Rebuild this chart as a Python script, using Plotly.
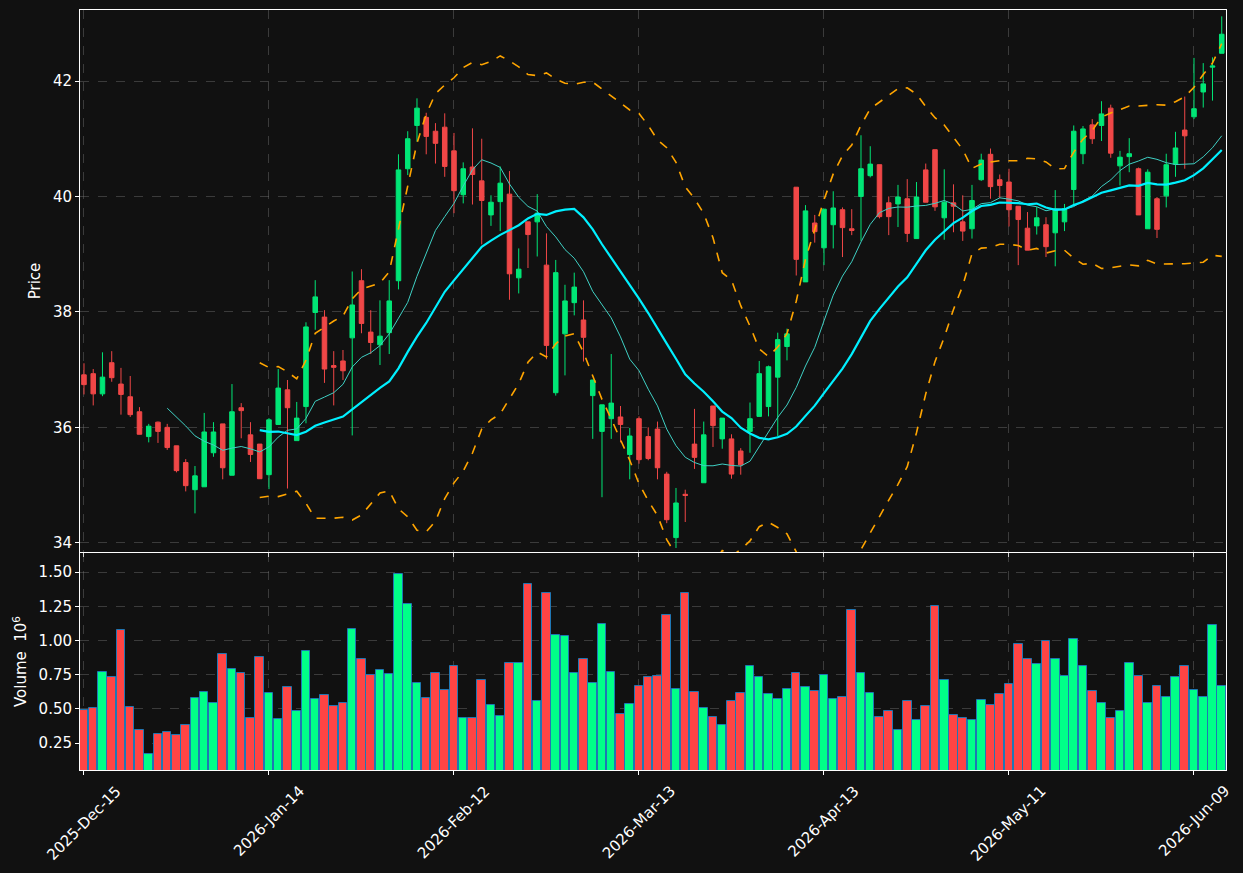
import numpy as np
import pandas as pd
import plotly.graph_objects as go
from plotly.subplots import make_subplots

# ---- data ----
opens = [36.91, 36.93, 36.58, 37.12, 36.75, 36.53, 36.27, 35.84, 36.09, 36.00,
         35.68, 35.39, 34.92, 34.97, 35.56, 36.06, 35.17, 36.34, 35.87, 35.71,
         35.18, 36.05, 36.65, 35.77, 36.36, 37.99, 37.91, 37.07, 37.15, 37.55,
         38.54, 37.65, 37.43, 37.64, 38.54, 40.48, 41.23, 41.37, 41.13, 41.20,
         40.79, 40.03, 40.51, 40.27, 39.68, 39.91, 40.04, 38.59, 39.56, 39.56,
         38.81, 36.60, 37.62, 38.16, 37.86, 36.55, 35.93, 36.15, 36.18, 35.53,
         36.15, 35.84, 35.97, 35.19, 34.09, 34.84, 35.71, 35.04, 36.37, 35.80,
         35.80, 35.59, 35.93, 36.19, 36.36, 36.87, 37.40, 40.16, 38.52, 39.54,
         39.11, 39.51, 39.77, 39.44, 40.00, 40.36, 40.55, 39.89, 39.87, 39.96,
         39.27, 40.46, 40.81, 39.63, 39.89, 39.56, 39.44, 40.29, 40.73, 40.29,
         40.25, 39.83, 39.45, 39.49, 39.51, 39.37, 39.56, 40.12, 40.74, 41.24,
         41.23, 41.53, 40.53, 40.69, 40.48, 39.44, 39.96, 40.01, 40.56, 41.15,
         41.38, 41.81, 42.24, 42.48]
highs = [37.11, 37.01, 37.30, 37.32, 37.03, 36.89, 36.35, 36.06, 36.10, 36.06,
         35.68, 35.45, 35.33, 36.25, 36.09, 36.06, 36.75, 36.42, 36.09, 35.71,
         36.16, 37.01, 36.82, 36.44, 37.82, 38.55, 38.03, 37.32, 37.34, 38.70,
         38.74, 38.03, 38.20, 38.55, 40.73, 41.13, 41.70, 41.45, 41.27, 41.44,
         41.10, 40.59, 41.18, 41.00, 40.02, 40.52, 40.44, 39.10, 39.56, 40.04,
         39.36, 38.90, 38.47, 38.68, 38.20, 36.82, 36.39, 37.27, 36.37, 35.99,
         36.19, 36.00, 36.10, 35.23, 34.95, 34.92, 36.32, 36.10, 36.37, 36.16,
         35.88, 35.64, 36.43, 37.15, 37.07, 37.64, 37.71, 40.16, 39.85, 39.68,
         39.78, 40.09, 39.81, 39.78, 41.06, 40.87, 40.55, 40.00, 40.20, 40.30,
         40.25, 40.57, 40.81, 40.47, 40.21, 40.02, 40.20, 40.74, 40.83, 40.38,
         40.48, 39.83, 39.73, 39.82, 39.64, 40.11, 39.87, 41.23, 41.22, 41.34,
         41.65, 41.59, 40.79, 41.01, 40.50, 40.47, 39.99, 40.74, 41.12, 41.73,
         42.40, 42.31, 42.41, 43.12]
lows = [36.57, 36.38, 36.54, 36.79, 36.22, 36.18, 35.88, 35.74, 35.73, 35.61,
        35.22, 34.89, 34.51, 34.97, 35.49, 35.10, 35.17, 35.81, 35.40, 35.11,
        34.93, 36.05, 34.94, 35.77, 36.07, 37.69, 36.77, 36.38, 36.82, 35.86,
        37.63, 37.27, 37.08, 37.27, 38.39, 40.37, 40.95, 40.73, 40.57, 40.34,
        39.71, 39.88, 39.86, 39.17, 39.49, 39.40, 38.21, 38.32, 38.76, 38.96,
        37.18, 36.55, 36.90, 37.94, 37.14, 35.80, 34.79, 35.80, 35.74, 35.10,
        35.37, 35.43, 35.10, 34.34, 33.91, 34.36, 35.28, 35.04, 35.66, 35.63,
        35.11, 35.18, 35.56, 36.19, 36.19, 35.85, 37.16, 38.63, 38.52, 39.20,
        38.81, 39.10, 38.95, 39.33, 39.23, 40.33, 39.62, 39.33, 39.47, 39.21,
        39.27, 39.90, 39.75, 39.25, 39.38, 39.23, 39.27, 40.27, 39.96, 39.97,
        39.48, 38.81, 39.07, 39.34, 38.95, 38.79, 39.40, 39.86, 40.56, 40.91,
        40.96, 40.67, 40.19, 40.42, 39.68, 39.44, 39.28, 39.81, 40.34, 40.48,
        41.34, 41.54, 41.66, 42.48]
closes = [36.74, 36.58, 36.87, 36.86, 36.57, 36.22, 35.88, 36.02, 35.93, 35.65,
          35.25, 34.99, 35.16, 35.92, 35.92, 35.30, 36.27, 36.29, 35.53, 35.11,
          36.13, 36.68, 36.34, 36.16, 37.74, 38.26, 37.01, 37.04, 36.98, 38.12,
          37.80, 37.47, 37.58, 38.19, 40.46, 41.00, 41.53, 41.04, 40.92, 40.52,
          40.10, 40.48, 40.38, 39.93, 39.90, 40.23, 38.66, 38.74, 39.34, 39.71,
          37.42, 38.68, 38.19, 38.43, 37.56, 36.82, 36.39, 36.42, 36.05, 35.85,
          35.44, 35.46, 35.30, 34.40, 34.69, 34.82, 35.48, 35.87, 36.03, 36.16,
          35.19, 35.35, 36.15, 36.93, 37.05, 37.52, 37.62, 38.91, 39.75, 39.39,
          39.78, 39.80, 39.46, 39.41, 40.48, 40.56, 39.65, 39.65, 39.99, 39.36,
          39.99, 39.90, 39.82, 39.90, 39.83, 39.40, 39.93, 40.63, 40.17, 40.19,
          39.77, 39.60, 39.07, 39.63, 39.13, 39.77, 39.79, 41.13, 41.17, 41.00,
          41.43, 40.75, 40.68, 40.74, 39.68, 40.42, 39.43, 40.55, 40.84, 41.05,
          41.52, 41.95, 42.26, 42.81]
volumes_m = [0.493, 0.504, 0.767, 0.730, 1.074, 0.511, 0.343, 0.167, 0.314, 0.328,
             0.306, 0.379, 0.577, 0.621, 0.540, 0.898, 0.789, 0.760, 0.433, 0.876,
             0.613, 0.423, 0.657, 0.481, 0.920, 0.569, 0.599, 0.518, 0.540, 1.081,
             0.862, 0.745, 0.781, 0.752, 1.490, 1.264, 0.686, 0.577, 0.760, 0.635,
             0.811, 0.431, 0.431, 0.708, 0.525, 0.445, 0.833, 0.833, 1.410, 0.555,
             1.344, 1.037, 1.030, 0.760, 0.862, 0.686, 1.118, 0.767, 0.464, 0.532,
             0.664, 0.730, 0.738, 1.183, 0.643, 1.344, 0.621, 0.504, 0.438, 0.379,
             0.555, 0.613, 0.811, 0.730, 0.606, 0.569, 0.643, 0.760, 0.657, 0.628,
             0.745, 0.569, 0.584, 1.220, 0.760, 0.613, 0.438, 0.482, 0.343, 0.555,
             0.416, 0.518, 1.249, 0.708, 0.452, 0.431, 0.416, 0.562, 0.525, 0.606,
             0.679, 0.971, 0.868, 0.825, 0.993, 0.868, 0.738, 1.008, 0.817, 0.628,
             0.546, 0.431, 0.482, 0.833, 0.738, 0.546, 0.664, 0.584, 0.730, 0.811,
             0.635, 0.584, 1.110, 0.664]
tick_labels = ["2025-Dec-15", "2026-Jan-14", "2026-Feb-12", "2026-Mar-13",
               "2026-Apr-13", "2026-May-11", "2026-Jun-09"]
tick_every = 20

# ---- derived series ----
n = len(closes)
x = list(range(n))
c = pd.Series(closes)
ma10 = c.rolling(10).mean()
ma20 = c.rolling(20).mean()
sd20 = c.rolling(20).std(ddof=0)
upper = ma20 + 2 * sd20
lower = ma20 - 2 * sd20

UP_C, DN_C = "#00e676", "#f04747"
VUP_C, VDN_C = "#00ff88", "#ff4444"
BG = "#111111"
GRID = "rgba(128,128,128,0.38)"
FONT = "DejaVu Sans"

vol_colors = [VUP_C if cl >= op else VDN_C for op, cl in zip(opens, closes)]

fig = make_subplots(rows=2, cols=1, shared_xaxes=True, vertical_spacing=0)

fig.add_trace(go.Candlestick(
    x=x, open=opens, high=highs, low=lows, close=closes,
    increasing=dict(line=dict(color=UP_C, width=1), fillcolor=UP_C),
    decreasing=dict(line=dict(color=DN_C, width=1), fillcolor=DN_C),
    whiskerwidth=0, showlegend=False), row=1, col=1)

fig.add_trace(go.Scatter(x=x, y=upper, mode="lines",
                         line=dict(color="#FFA500", width=1.6, dash="dash"),
                         showlegend=False), row=1, col=1)
fig.add_trace(go.Scatter(x=x, y=lower, mode="lines",
                         line=dict(color="#FFA500", width=1.6, dash="dash"),
                         showlegend=False), row=1, col=1)
fig.add_trace(go.Scatter(x=x, y=ma10, mode="lines",
                         line=dict(color="#3fd0c4", width=1),
                         showlegend=False), row=1, col=1)
fig.add_trace(go.Scatter(x=x, y=ma20, mode="lines",
                         line=dict(color="#00f0ff", width=2.2),
                         showlegend=False), row=1, col=1)

fig.add_trace(go.Bar(x=x, y=volumes_m, width=0.92,
                     marker=dict(color=vol_colors, line=dict(color="#1f77b4", width=1)),
                     showlegend=False), row=2, col=1)

axis_common = dict(showline=True, linecolor="white", linewidth=1, mirror=True,
                   ticks="outside", ticklen=4, tickcolor="white",
                   showgrid=True, gridcolor=GRID, griddash="dash", gridwidth=1,
                   zeroline=False, tickfont=dict(color="white", size=15, family=FONT))

tickvals = x[::tick_every]
fig.update_xaxes(**axis_common, range=[-0.43, 123.46], tickvals=tickvals,
                 ticktext=tick_labels, showticklabels=False,
                 rangeslider=dict(visible=False))

# rotated date labels centred under their ticks (matplotlib-style)
for tv, lab in zip(tickvals, tick_labels):
    fig.add_annotation(x=tv, y=-0.012, xref="x2", yref="paper", text=lab,
                       textangle=-45, showarrow=False, xanchor="center", yanchor="top",
                       font=dict(color="white", size=15, family=FONT))

fig.update_yaxes(**axis_common)
fig.update_yaxes(range=[33.84, 43.23], tickvals=[34, 36, 38, 40, 42],
                 domain=[0.2868, 1.0],
                 title=dict(text="Price", font=dict(color="white", size=15, family=FONT), standoff=8),
                 row=1, col=1)
fig.update_yaxes(range=[0.053, 1.64], tickvals=[0.25, 0.5, 0.75, 1.0, 1.25, 1.5],
                 tickformat=".2f", domain=[0.0, 0.2855],
                 title=dict(text="Volume  10<sup>6</sup>", font=dict(color="white", size=15, family=FONT), standoff=8),
                 row=2, col=1)

fig.update_layout(
    width=1243, height=873,
    margin=dict(l=80, r=17, t=10, b=103),
    paper_bgcolor=BG, plot_bgcolor=BG,
    font=dict(family=FONT, color="white", size=15),
    showlegend=False, bargap=0,
)

fig.write_html("out.html")
